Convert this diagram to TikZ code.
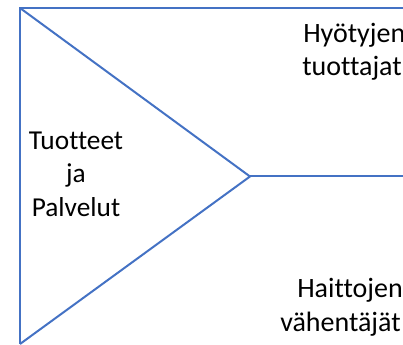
\documentclass[tikz,border=0pt]{standalone}
\usepackage{fontspec}
\setmainfont{Carlito}[Ligatures=CommonOff]
\definecolor{lineblue}{RGB}{68,114,196}
\tikzset{
  edge/.style={draw=lineblue, line width=1.5pt},
  lblc/.style={font=\fontsize{20.5pt}{24pt}\selectfont, text=black, inner sep=0pt, anchor=base},
  lbl/.style={font=\fontsize{21pt}{25pt}\selectfont, text=black, inner sep=0pt, anchor=base west}
}
\begin{document}
\begin{tikzpicture}[x=0.75pt,y=-0.75pt]
\useasboundingbox (0,0) rectangle (403,345);
\clip (0,0) rectangle (403,345);
\coordinate (tl) at (20,8);
\coordinate (tr) at (410,8);
\coordinate (bl) at (20,344);
\coordinate (apex) at (250,176.5);
\coordinate (mr) at (410,176.5);
\draw[edge, line join=miter] (tr) -- (tl) -- (bl);
\draw[edge] (tl) -- (apex) -- (bl);
\draw[edge] (apex) -- (mr);
\node[lblc] (t1) at (76,150) {Tuotteet};
\node[lblc] (t2) at (76,183) {ja};
\node[lblc] (t3) at (76,217) {Palvelut};
\node[lbl] (h1) at (303,43) {Hyötyjen};
\node[lbl] (h2) at (302,76) {tuottajat};
\node[lbl] (v1) at (297,297) {Haittojen};
\node[lbl] (v2) at (280,331) {vähentäjät};
\end{tikzpicture}
\end{document}
